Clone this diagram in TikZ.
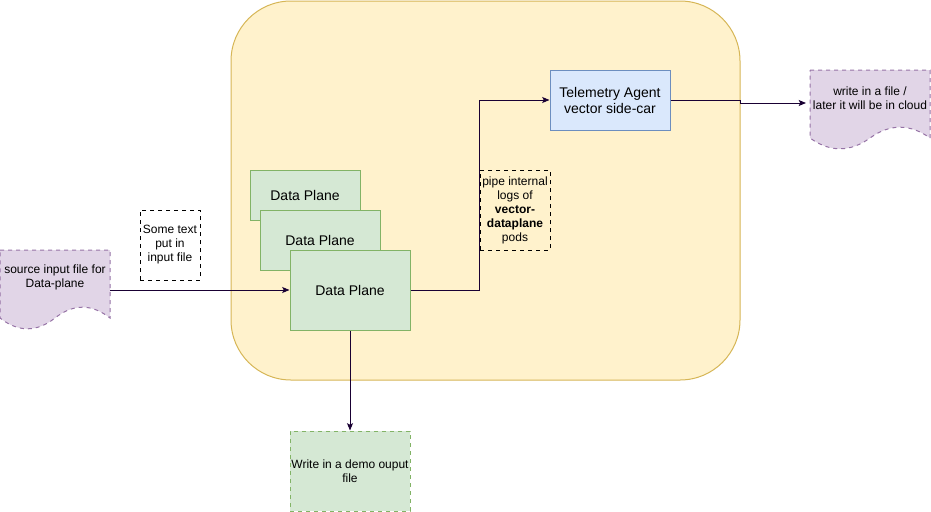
\documentclass[tikz,border=0pt]{standalone}
\usepackage{fontspec}
\setmainfont{Liberation Sans}
\usetikzlibrary{arrows.meta}
\usetikzlibrary{positioning}

\definecolor{podfill}{HTML}{FFF2CC}
\definecolor{podline}{HTML}{D6B656}
\definecolor{planefill}{HTML}{D5E8D4}
\definecolor{planeline}{HTML}{82B366}
\definecolor{agentfill}{HTML}{DAE8FC}
\definecolor{agentline}{HTML}{6C8EBF}
\definecolor{docfill}{HTML}{E1D5E7}
\definecolor{docline}{HTML}{9673A6}
\definecolor{wire}{HTML}{190033}

\begin{document}
\begin{tikzpicture}[
  x=0.75pt, y=-0.75pt,
  every path/.style={line width=0.75pt},
  box/.style={draw, inner sep=0pt, align=center, font=\fontsize{10.5}{12}\selectfont},
  small/.style={font=\fontsize{9}{10.5}\selectfont, align=center, inner sep=0pt},
  pod/.style={draw=podline, fill=podfill, minimum width=381.75pt, minimum height=284.25pt, rounded corners=45pt},
  plane/.style={box, fill=planefill, draw=planeline, minimum width=90pt, minimum height=60pt},
  agent/.style={box, fill=agentfill, draw=agentline, minimum width=90pt, minimum height=45pt},
  note/.style={small, draw, dashed},
  docfile/.style={fill=docfill, draw=docline, dashed},
  outbox/.style={small, draw=planeline, fill=planefill, dashed, minimum width=90pt, minimum height=60pt},
  ar/.style={draw=wire, -{Stealth[length=5.5pt, width=4.5pt, inset=1.2pt]}}
  ] %
    \useasboundingbox (0,0) rectangle (931,511);
    \node[pod](pod) at (485.5,190.5) {};
    % data plane stack
    \node[plane, minimum width=82.5pt, minimum height=37.5pt](back) at (305,195) {Data Plane};
    \node[plane, minimum height=45pt](middle) at (320,240) {Data Plane};
    \node[plane](front) at (350,290) {Data Plane};
    \node[agent](agent) at (610,100) {Telemetry Agent\\vector side-car};
    \node[outbox, below=75pt of front](demo) {Write in a demo ouput\\file};
    % notes
    \node[note, minimum width=45pt, minimum height=52.5pt](sometext) at (170,245) {Some text\\put in\\input file};
    \node[note, minimum width=52.5pt, minimum height=60pt](pipe) at (515,210) {pipe internal\\logs of\\\textbf{vector-}\\\textbf{dataplane}\\pods};
    % document shapes
    \draw[docfile] (0,250) -- (110,250) -- (110,318) .. controls (91.67,303.6) and (73.33,303.6) .. (55,318)
      .. controls (36.67,332.4) and (18.33,332.4) .. (0,318) -- cycle;
    \node[small](srcfile) at (55,277.5) {source input file for\\Data-plane};
    \coordinate (srcout) at (110,290);
    \draw[docfile] (810,70) -- (930,70) -- (930,138) .. controls (910,123.6) and (890,123.6) .. (870,138)
      .. controls (850,152.4) and (830,152.4) .. (810,138) -- cycle;
    \node[small](cloudfile) at (870,98) {write in a file /\\later it will be in cloud};
    \coordinate (cloudin) at (806,103);
    % connectors
    \draw[ar] (srcout) -- (front.west);
    \draw[ar] (front.south) -- (demo.north);
    \draw[ar] (front.east) -| (pipe.west |- agent.west) -- (agent.west);
    \draw[ar] (agent.east) -| (740,103) -- (cloudin);
  \end{tikzpicture}
\end{document}
